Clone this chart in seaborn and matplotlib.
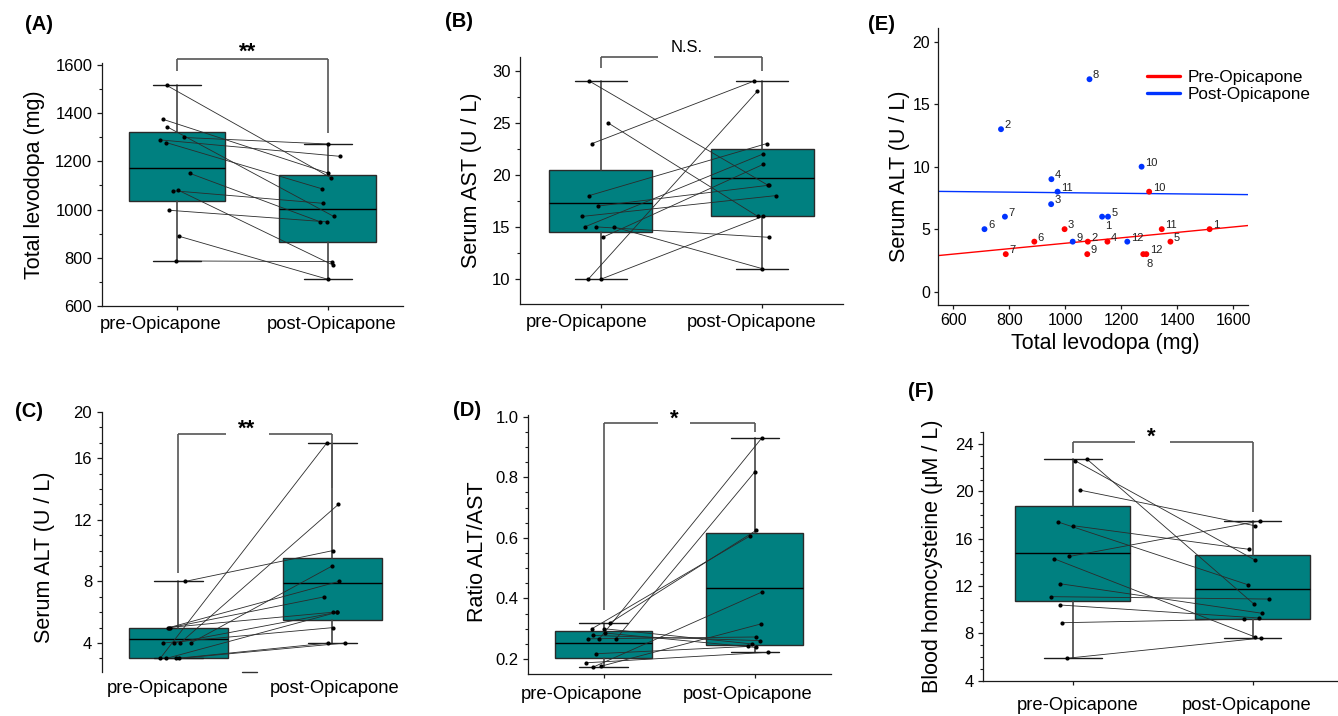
import numpy as np
import pandas as pd
import matplotlib
matplotlib.use("Agg")
import matplotlib.pyplot as plt
import seaborn as sns
from matplotlib.lines import Line2D
from matplotlib.ticker import MultipleLocator
from matplotlib.transforms import ScaledTranslation

# ---------------- data ----------------
patients = [1, 2, 3, 4, 5, 6, 7, 8, 9, 10, 11, 12]
groups = ["pre-Opicapone", "post-Opicapone"]

levodopa_pre = [1515, 1080, 997, 1150, 1375, 889, 787, 1278, 1078, 1299, 1344, 1289]
levodopa_post = [1131, 770, 949, 950, 1152, 711, 784, 1086, 1026, 1272, 972, 1221]
alt_pre = [5, 4, 5, 4, 4, 4, 3, 3, 3, 8, 5, 3]
alt_post = [6, 13, 7, 9, 6, 5, 6, 17, 4, 10, 8, 4]
ast_pre = [18, 15, 23, 15, 15, 14, 17, 10, 10, 25, 29, 16]
ast_post = [23, 14, 29, 11, 22, 21, 19, 28, 16, 16, 19, 18]
hcy_pre = [22.6, 22.7, 20.1, 17.4, 17.1, 14.5, 14.3, 12.2, 11.1, 10.4, 8.9, 5.9]
hcy_post = [14.2, 10.5, 17.1, 12.1, 15.1, 17.5, 7.7, 9.7, 10.9, 9.3, 9.2, 7.6]

ratio_pre = [a / s for a, s in zip(alt_pre, ast_pre)]
ratio_post = [a / s for a, s in zip(alt_post, ast_post)]

a_ticks = [600, 800, 1000, 1200, 1400, 1600]
b_ticks = [10, 15, 20, 25, 30]
c_ticks = [4, 8, 12, 16, 20]
d_ticks = [0.2, 0.4, 0.6, 0.8, 1.0]
e_xticks = [600, 800, 1000, 1200, 1400, 1600]
e_yticks = [0, 5, 10, 15, 20]
f_ticks = [4, 8, 12, 16, 20, 24]

# ---------------- style (jitter of the dots) ----------------
jit = {
    "A": ([-0.068, 0.009, -0.05, 0.086, -0.096, 0.015, -0.009, -0.072, -0.024, 0.048, -0.068, -0.112],
          [0.024, 0.035, -0.004, -0.053, 0.0, 0.0, 0.029, -0.037, -0.031, 0.0, 0.039, 0.079]),
    "B": ([-0.072, -0.029, -0.053, 0.080, -0.099, 0.012, -0.016, -0.076, 0.004, 0.043, -0.072, -0.117],
          [0.029, 0.041, -0.049, -0.002, 0.006, 0.006, 0.043, -0.031, 0.002, -0.027, 0.035, 0.084]),
    "C": ([-0.071, 0.011, -0.054, 0.080, -0.030, -0.102, -0.080, -0.119, -0.015, 0.043, -0.062, 0.002],
          [0.002, 0.039, -0.052, -0.002, 0.032, 0.002, 0.032, -0.035, -0.026, 0.002, 0.043, 0.082]),
    "D": ([-0.073, -0.029, -0.053, 0.082, -0.102, 0.011, -0.015, -0.077, 0.002, 0.044, -0.073, -0.117],
          [0.033, 0.044, -0.044, 0.0, 0.009, 0.007, 0.040, -0.029, -0.022, 0.009, 0.046, 0.088]),
    "F": ([0.011, 0.080, 0.041, -0.080, 0.0, -0.019, -0.104, -0.074, -0.121, -0.074, -0.058, -0.030],
          [0.013, 0.006, 0.011, -0.024, -0.019, 0.043, 0.013, 0.052, 0.091, 0.035, -0.045, 0.048]),
}

TEAL = "#008080"
RED = "#ff0000"
BLUE = "#0033ff"
W, H = 1338, 716

sns.set_theme(style="ticks")
plt.rcParams["font.family"] = ["Liberation Sans", "DejaVu Sans"]
plt.rcParams.update({
    "axes.linewidth": 0.9, "axes.edgecolor": "#1a1a1a",
    "xtick.color": "#1a1a1a", "ytick.color": "#1a1a1a",
    "xtick.labelcolor": "black", "ytick.labelcolor": "black",
    "xtick.major.width": 0.9, "ytick.major.width": 0.9, "ytick.minor.width": 0.8,
    "text.color": "black", "axes.labelcolor": "black",
})

fig = plt.figure(figsize=(W / 100, H / 100), dpi=100)


def add_axes_px(left, top, right, bottom):
    return fig.add_axes([left / W, 1 - bottom / H, (right - left) / W, (bottom - top) / H])


def hinge_stats(vals):
    v = np.sort(np.asarray(vals, float))
    n = len(v)
    lower, upper = v[: (n + 1) // 2], v[n // 2:]
    m = float(np.mean(v))
    return dict(med=m, mean=m, q1=float(np.median(lower)), q3=float(np.median(upper)),
                whislo=float(v.min()), whishi=float(v.max()), fliers=[])


def shift_px(artist, dx=0, dy=0):
    artist.set_transform(artist.get_transform() + ScaledTranslation(dx / 100, dy / 100, fig.dpi_scale_trans))


def box_panel(ax, key, pre, post, ylim, yticks, yticklabels, minor, ylabel, label_x, label_y=0.5,
              xpad=4.5, xshift=(0, 0), xtick_len=3.0):
    ax.bxp([hinge_stats(pre), hinge_stats(post)], positions=[0, 1], widths=0.64, capwidths=0.32,
           patch_artist=True, showfliers=False, manage_ticks=False, zorder=1,
           boxprops=dict(facecolor=TEAL, edgecolor="#2a2a2a", linewidth=1.0),
           medianprops=dict(color="black", linewidth=1.0),
           whiskerprops=dict(color="#444444", linewidth=1.2),
           capprops=dict(color="#1a1a1a", linewidth=1.0))
    jp, jq = jit[key]
    df = pd.DataFrame({
        "patient": patients + patients,
        "x": [0 + j for j in jp] + [1 + j for j in jq],
        "value": list(pre) + list(post),
    })
    sns.lineplot(data=df, x="x", y="value", units="patient", estimator=None, sort=False,
                 color="#2b2b2b", linewidth=0.6, legend=False, ax=ax, zorder=3)
    sns.scatterplot(data=df, x="x", y="value", color="black", s=9, linewidth=0,
                    legend=False, ax=ax, zorder=4)
    ax.set_xlim(-0.5, 1.5)
    ax.set_ylim(*ylim)
    ax.set_yticks(yticks, yticklabels)
    ax.yaxis.set_minor_locator(MultipleLocator(minor))
    ax.set_xticks([0, 1], groups)
    ax.tick_params(axis="x", length=xtick_len, pad=xpad, labelsize=13.2)
    ax.tick_params(axis="y", which="major", length=3.6, pad=3.2, labelsize=12)
    ax.tick_params(axis="y", which="minor", length=2.0)
    for lab, dx in zip(ax.get_xticklabels(), xshift):
        shift_px(lab, dx, 0)
    ax.set_xlabel("")
    ax.set_ylabel(ylabel, fontsize=15.5)
    ax.yaxis.set_label_coords(label_x, label_y)
    sns.despine(ax=ax)


def bracket(ax, y_left, y_top, y_right, text, tx, ty, gap=None, fs=16, weight="bold", dy=-4):
    kw = dict(color="#555555", linewidth=1.2, clip_on=False, solid_capstyle="butt", zorder=5)
    ax.plot([0, 0], [y_left, y_top], **kw)
    ax.plot([1, 1], [y_top, y_right], **kw)
    if gap is None:
        ax.plot([0, 1], [y_top, y_top], **kw)
    else:
        ax.plot([0, gap[0]], [y_top, y_top], **kw)
        ax.plot([gap[1], 1], [y_top, y_top], **kw)
    ax.annotate(text, xy=(tx, ty), xytext=(0, dy), textcoords="offset points", ha="center",
                va="center", fontsize=fs, fontweight=weight, annotation_clip=False)


# ---------------- (A) ----------------
axA = add_axes_px(101.7, 63, 403, 306)
box_panel(axA, "A", levodopa_pre, levodopa_post, (600, 1608), a_ticks, [str(t) for t in a_ticks], 100,
          "Total levodopa (mg)", -0.188, xpad=4.5, xshift=(-16, 4))
bracket(axA, 1576, 1624, 1317, "**", 0.467, 1675)

# ---------------- (B) ----------------
axB = add_axes_px(520, 57, 843, 304)
box_panel(axB, "B", ast_pre, ast_post, (7.6, 31.3), b_ticks, [str(t) for t in b_ticks], 2.5,
          "Serum AST (U / L)", -0.118, xpad=4.5, xshift=(-14, -11))
bracket(axB, 30.26, 31.29, 29.97, "N.S.", 0.53, 32.18, gap=(0.352, 0.704), fs=12, weight="normal", dy=0)

# ---------------- (C) ----------------
axC = add_axes_px(101.5, 412, 409.3, 672)
c_top = 19.0
box_panel(axC, "C", alt_pre, alt_post, (2.12, c_top), c_ticks[:-1] + [c_top], [str(t) for t in c_ticks], 1,
          "Serum ALT (U / L)", -0.151, label_y=0.44, xpad=6.0, xshift=(-11, 2), xtick_len=0)
axC.spines["bottom"].set_visible(False)
axC.plot([0.41, 0.51], [0, 0], color="#333333", linewidth=1.0, transform=axC.get_xaxis_transform(),
         clip_on=False)
bracket(axC, 8.57, 17.58, 14.05, "**", 0.444, 18.27, gap=(0.31, 0.59))

# ---------------- (D) ----------------
axD = add_axes_px(528, 415, 830.5, 674)
box_panel(axD, "D", ratio_pre, ratio_post, (0.1505, 1.0056), d_ticks, [f"{t:.1f}" for t in d_ticks], 0.05,
          "Ratio ALT/AST", -0.132, label_y=0.472, xpad=5.5, xshift=(-22, -7))
bracket(axD, 0.362, 0.978, 0.9505, "*", 0.466, 1.011, gap=(0.36, 0.574))

# ---------------- (F) ----------------
axF = add_axes_px(983, 431.7, 1337, 680.7)
box_panel(axF, "F", hcy_pre, hcy_post, (4, 25.04), f_ticks, [str(t) for t in f_ticks], 1,
          "Blood homocysteine (\u03bcM / L)", -0.113, xpad=9.0, xshift=(5, -6))
axF.set_xlim(-0.5, 1.47)
bracket(axF, 23.26, 24.19, 18.28, "*", 0.437, 25.04, gap=(0.344, 0.54))

# ---------------- (E) ----------------
axE = add_axes_px(938, 28, 1248, 305)
axE.set_xlim(545, 1652)
axE.set_ylim(-1.07, 21.1)
dfE = pd.DataFrame({
    "patient": patients + patients,
    "levodopa": levodopa_pre + levodopa_post,
    "alt": alt_pre + alt_post,
    "phase": ["Pre-Opicapone"] * 12 + ["Post-Opicapone"] * 12,
})
for phase, col in [("Pre-Opicapone", RED), ("Post-Opicapone", BLUE)]:
    sub = dfE[dfE["phase"] == phase]
    sns.regplot(data=sub, x="levodopa", y="alt", scatter=False, ci=None, truncate=False,
                color=col, line_kws=dict(linewidth=1.0), ax=axE)
sns.scatterplot(data=dfE, x="levodopa", y="alt", hue="phase", palette=[RED, BLUE], s=18,
                linewidth=0, legend=False, ax=axE, zorder=4)
below = {("Post-Opicapone", 1), ("Pre-Opicapone", 8)}
for _, r in dfE.iterrows():
    if (r["phase"], r["patient"]) in below:
        axE.annotate(str(r["patient"]), xy=(r["levodopa"], r["alt"]), xytext=(2.3, -3.2),
                     textcoords="offset points", ha="left", va="top", fontsize=8, color="#222222")
    else:
        axE.annotate(str(r["patient"]), xy=(r["levodopa"], r["alt"]), xytext=(2.5, 0.6),
                     textcoords="offset points", ha="left", va="baseline", fontsize=8, color="#222222")
axE.set_xlim(545, 1652)
axE.set_ylim(-1.07, 21.1)
axE.set_xticks(e_xticks, [str(t) for t in e_xticks])
axE.set_yticks(e_yticks, [str(t) for t in e_yticks])
axE.tick_params(axis="both", length=3.0, pad=2.5, labelsize=11.5)
axE.set_xlabel("Total levodopa (mg)", fontsize=15.5)
axE.set_ylabel("Serum ALT (U / L)", fontsize=15.5)
axE.xaxis.set_label_coords(0.539, -0.100)
axE.yaxis.set_label_coords(-0.090, 0.463)
sns.despine(ax=axE)
axE.legend(handles=[Line2D([], [], color=RED, linewidth=2.4), Line2D([], [], color=BLUE, linewidth=2.4)],
           labels=["Pre-Opicapone", "Post-Opicapone"], frameon=False, fontsize=12.3,
           loc="upper left", bbox_to_anchor=(1147 / W, 1 - 70 / H), bbox_transform=fig.transFigure,
           borderpad=0, borderaxespad=0, handlelength=1.95, handletextpad=0.45, labelspacing=0.12)

# ---------------- panel letters ----------------
for txt, x, y in [("(A)", 25, 25), ("(B)", 445, 21.7), ("(E)", 868.3, 25),
                  ("(C)", 15, 411.7), ("(D)", 453.3, 410), ("(F)", 908.3, 391.7)]:
    fig.text(x / W, 1 - y / H, txt, ha="left", va="center", fontsize=14.5, fontweight="bold")

fig.savefig("out.png", dpi=100)
